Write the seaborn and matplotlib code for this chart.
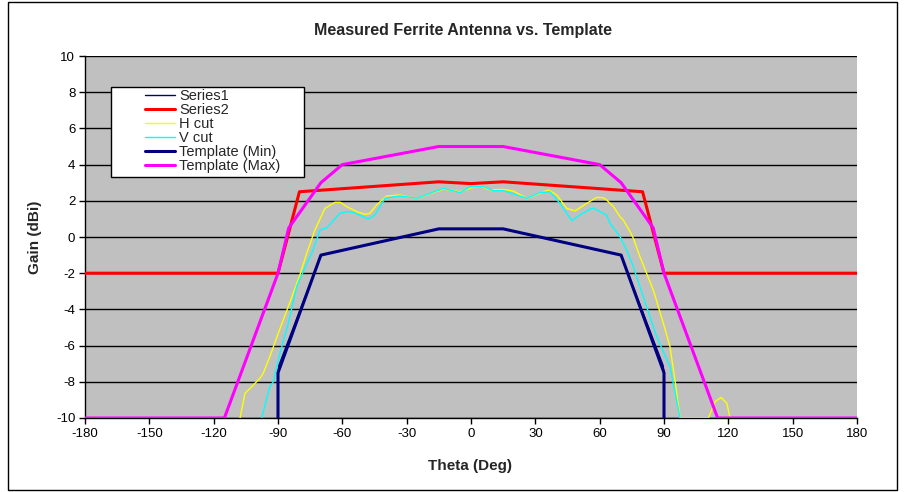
import numpy as np
import pandas as pd
import matplotlib
matplotlib.use("Agg")
import matplotlib.pyplot as plt
import seaborn as sns
from matplotlib.patches import Rectangle

# ---------------- data ----------------
s1_theta = [-90, -90, -89.6, -70, -15, 15, 70, 89.6, 90, 90]
s1_gain = [-10, -7.5, -7.1, -1.0, 0.45, 0.45, -1.0, -7.1, -7.5, -10]

s2_theta = [-180, -90, -80, -15, 0, 15, 80, 90, 180]
s2_gain = [-2, -2, 2.5, 3.05, 2.95, 3.05, 2.5, -2, -2]

h_theta = [-107.7, -105.4, -103, -101.5, -98.4, -96.9, -93.8, -89.9, -85.2, -79.8,
           -76.6, -72.8, -68.1, -63.4, -61.0, -58, -53.3, -49.4, -47.1, -44, -39.3,
           -33.1, -30, -25.3, -20.7, -12.9, -5.1, 0.3, 4.2, 8.9, 15.1, 19.7, 26, 32.2,
           36.1, 40, 44.6, 48.5, 54, 58.6, 61.7, 63.3, 66.4, 69.5, 71, 74.2, 75.7,
           78.8, 85, 89.7, 92.8, 95.1, 97.5,
           110.7, 113.8, 116.6, 119.3, 120.8]
h_gain = [-10, -8.64, -8.36, -8.18, -7.8, -7.53, -6.61, -5.32, -3.85, -2.1,
          -0.9, 0.39, 1.58, 1.92, 1.92, 1.68, 1.40, 1.25, 1.31, 1.77, 2.27,
          2.32, 2.23, 2.14, 2.32, 2.65, 2.5, 2.72, 2.8, 2.6, 2.63, 2.54, 2.14, 2.41,
          2.6, 2.32, 1.58, 1.44, 1.86, 2.19, 2.17, 2.04, 1.68, 1.12, 0.94, 0.29, -0.07,
          -1.09, -2.93, -4.77, -6.06, -7.9, -10,
          -10, -9.1, -8.86, -9.19, -10]

v_theta = [-97.6, -93.8, -92.2, -89.1, -85.2, -81.3, -78.2, -73.6, -70.4, -67.3,
           -62.6, -61.1, -58, -54.9, -51.8, -47.9, -44.8, -40.1, -33.1, -25.3, -19.1,
           -12.9, -5.1, -0.5, 5.7, 10.4, 15.1, 21.3, 26, 32.2, 36.8, 41.5, 47, 50.8,
           55.5, 57, 60.2, 63.3, 64.8, 69.5, 72.6, 75.7, 81.9, 86.6, 92.8, 97.5]
v_gain = [-10, -8.27, -8.0, -6.43, -4.77, -2.74, -1.9, -0.72, 0.39, 0.5,
          1.12, 1.31, 1.40, 1.36, 1.2, 0.99, 1.22, 2.14, 2.27, 2.14, 2.41,
          2.69, 2.45, 2.78, 2.78, 2.56, 2.56, 2.32, 2.14, 2.45, 2.5, 1.86, 0.9, 1.22,
          1.53, 1.6, 1.4, 1.2, 0.76, 0.02, -0.72, -1.64, -3.85, -5.51, -7.17, -10]

tmin_theta = [-90, -90, -70, -15, 15, 70, 90, 90]
tmin_gain = [-10, -7.5, -1.0, 0.45, 0.45, -1.0, -7.5, -10]

tmax_theta = [-180, -115, -90, -85, -70, -60, -15, 15, 60, 70, 85, 90, 115, 180]
tmax_gain = [-10, -10, -2, 0.5, 3, 4, 5, 5, 4, 3, 0.5, -2, -10, -10]

x_ticks = [-180, -150, -120, -90, -60, -30, 0, 30, 60, 90, 120, 150, 180]
y_ticks = [10, 8, 6, 4, 2, 0, -2, -4, -6, -8, -10]

series = [
    ("Series1", s1_theta, s1_gain, "#000080", 1.0),
    ("Series2", s2_theta, s2_gain, "#FF0000", 2.2),
    ("H cut", h_theta, h_gain, "#FFFF00", 1.0),
    ("V cut", v_theta, v_gain, "#00FFFF", 1.0),
    ("Template (Min)", tmin_theta, tmin_gain, "#000080", 2.2),
    ("Template (Max)", tmax_theta, tmax_gain, "#FF00FF", 2.2),
]

# ---------------- plot ----------------
sns.set_theme(style="white")
plt.rcParams["font.family"] = ["Liberation Sans", "DejaVu Sans"]

W, H = 906, 492
fig = plt.figure(figsize=(9.06, 4.92), dpi=100)
ax = fig.add_axes([85 / W, 1 - 418 / H, (857 - 85) / W, (418 - 56) / H])
ax.set_facecolor("#C0C0C0")

for name, xs, ys, col, lw in series:
    df = pd.DataFrame({"theta": xs, "gain": ys})
    sns.lineplot(data=df, x="theta", y="gain", ax=ax, sort=False, estimator=None,
                 color=col, linewidth=lw, label=name, zorder=3)

ax.set_xlim(-180, 180)
ax.set_ylim(-10, 10)
ax.set_xticks(x_ticks)
ax.set_yticks(y_ticks)
ax.set_xticklabels([str(t) for t in x_ticks], fontsize=9.5)
ax.set_yticklabels([str(t) for t in y_ticks], fontsize=9.5)
ax.yaxis.grid(True, color="black", linewidth=1.0, zorder=1)
ax.xaxis.grid(False)
ax.set_axisbelow(True)
ax.tick_params(axis="both", direction="out", length=4, width=1, color="black",
               labelcolor="black", pad=3, bottom=True, left=True)
for side in ["top", "right"]:
    ax.spines[side].set_visible(False)
for side in ["left", "bottom"]:
    ax.spines[side].set_color("black")
    ax.spines[side].set_linewidth(1.0)

ax.set_xlabel("")
ax.set_ylabel("")
fig.text(470 / W, 1 - 466 / H, "Theta (Deg)", ha="center", va="center",
         fontsize=11, fontweight="bold")
fig.text(35 / W, 1 - 237 / H, "Gain (dBi)", ha="center", va="center",
         rotation=90, fontsize=11, fontweight="bold")
fig.text(463 / W, 1 - 30 / H, "Measured Ferrite Antenna vs. Template",
         ha="center", va="center", fontsize=11.5, fontweight="bold")

# legend box (white, black edge) drawn separately inside the axes
ax.add_patch(Rectangle((111 / W, 1 - 177 / H), (304 - 111) / W, (177 - 87) / H,
                       transform=fig.transFigure, facecolor="white",
                       edgecolor="black", linewidth=1.0, zorder=4, clip_on=False))
leg = ax.legend(loc="upper left", bbox_to_anchor=(141 / W, 1 - 85 / H),
                bbox_transform=fig.transFigure,
                frameon=False, fontsize=10.5, handlelength=2.1,
                handletextpad=0.25, labelspacing=0.0, borderpad=0.25,
                borderaxespad=0)
leg.set_zorder(5)

fig.patches.append(Rectangle((8 / W, 1 - 490 / H), 889 / W, 488 / H,
                             transform=fig.transFigure, fill=False,
                             edgecolor="black", linewidth=1.0))

fig.savefig("out.png", dpi=100)
